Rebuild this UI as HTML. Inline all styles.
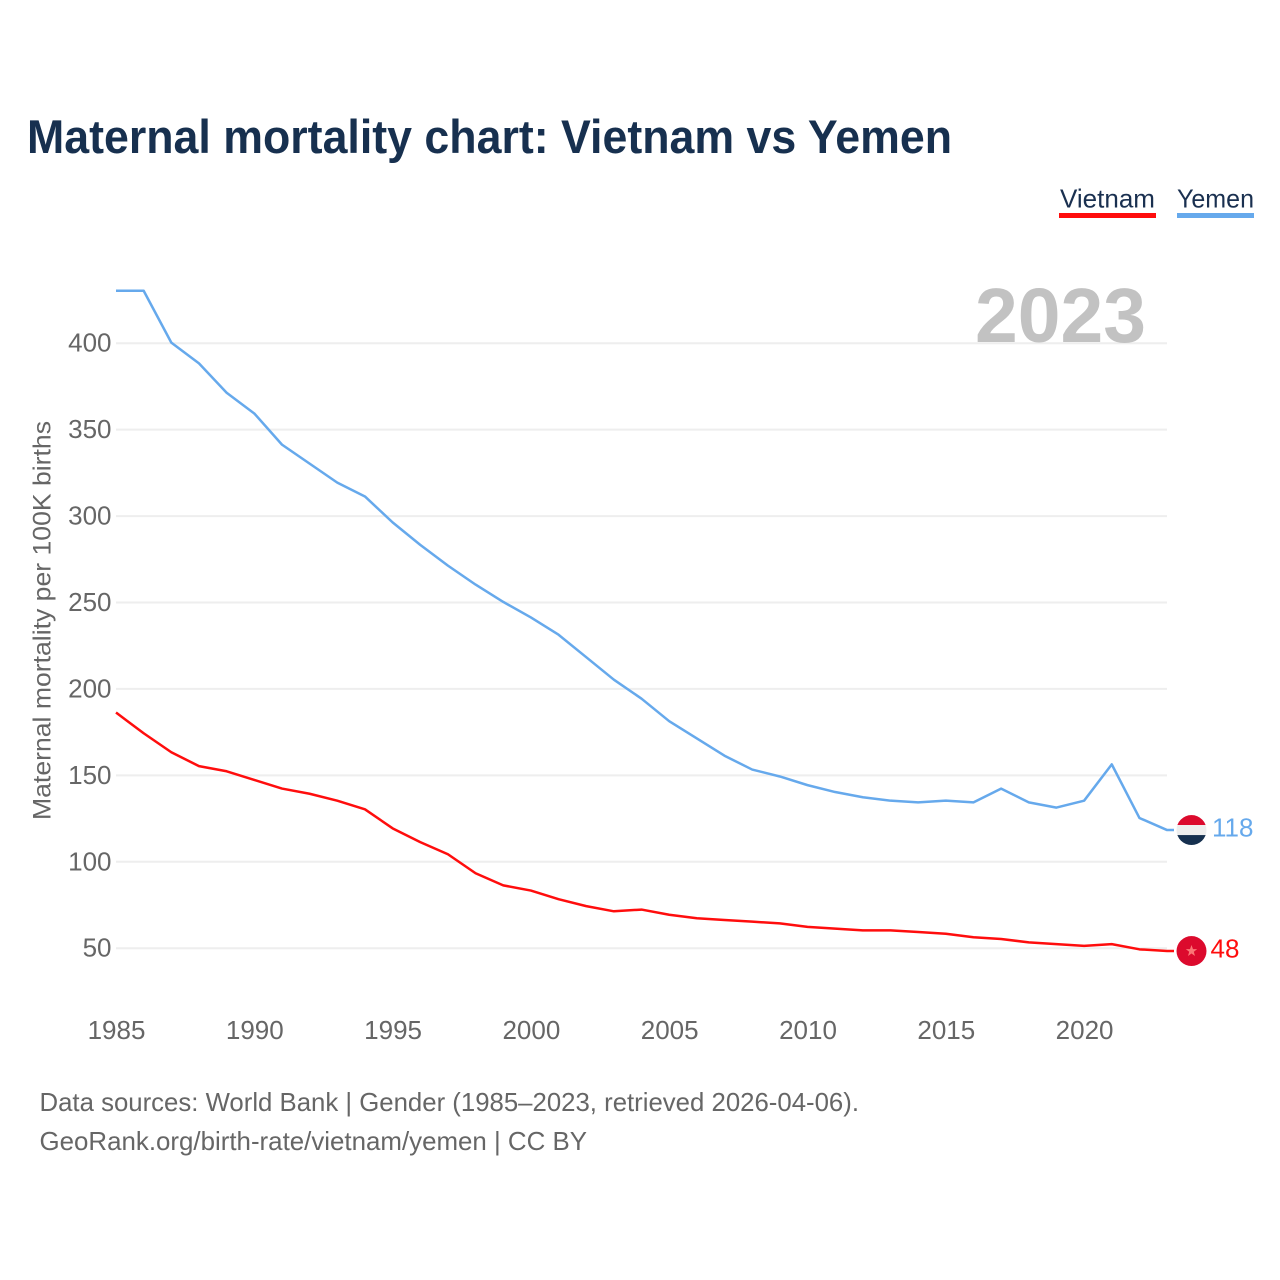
<!DOCTYPE html>
<html lang="en">
<head>
<meta charset="utf-8">
<title>Maternal mortality chart: Vietnam vs Yemen</title>
<style>
  html, body { margin: 0; padding: 0; background: #fff; }
  svg { display: block; font-family: "Liberation Sans", sans-serif; }
</style>
</head>
<body>
<svg id="chart" xmlns="http://www.w3.org/2000/svg" width="1280" height="1280" viewBox="0 0 1280 1280">
  <defs>
    <clipPath id="flag-clip"><circle cx="0" cy="0" r="15"></circle></clipPath>
  </defs>
  <rect x="0" y="0" width="1280" height="1280" fill="#ffffff"></rect>
  <text x="27" y="153" font-size="47" font-weight="700" fill="#17304f" textLength="925" lengthAdjust="spacingAndGlyphs">Maternal mortality chart: Vietnam vs Yemen</text>

  <g>
    <g>
      <text x="1060" y="207.5" font-size="26" fill="#1a3050" textLength="95" lengthAdjust="spacingAndGlyphs">Vietnam</text>
      <rect x="1059" y="213" width="97" height="5" fill="#ff0d0d"></rect>
    </g>
    <g>
      <text x="1177" y="207.5" font-size="26" fill="#1a3050" textLength="77" lengthAdjust="spacingAndGlyphs">Yemen</text>
      <rect x="1177" y="213" width="77" height="5" fill="#66a9ec"></rect>
    </g>
  </g>

  <g id="grid"></g>
  <text x="975" y="342" font-size="77" font-weight="700" fill="#c2c2c2" textLength="171" lengthAdjust="spacingAndGlyphs">2023</text>
  <g id="y-ticks"></g>
  <g id="x-ticks"></g>
  <text transform="translate(50.5 820) rotate(-90)" x="0" y="0" font-size="25" fill="#666666" textLength="399" lengthAdjust="spacingAndGlyphs">Maternal mortality per 100K births</text>

  <path id="line-vietnam" fill="none" stroke="#ff0d0d" stroke-width="2.5" stroke-linejoin="round"></path>
  <path id="line-yemen" fill="none" stroke="#66a9ec" stroke-width="2.5" stroke-linejoin="round"></path>

  <g id="flag-vietnam" clip-path="url(#flag-clip)">
    <rect x="-15" y="-15" width="30" height="30" fill="#dc0a2d"></rect>
    <polygon points="0,-6 1.5,-1.9 5.7,-1.9 2.3,0.7 3.5,4.9 0,2.4 -3.5,4.9 -2.3,0.7 -5.7,-1.9 -1.5,-1.9" fill="#fb7676"></polygon>
  </g>
  <g id="flag-yemen" clip-path="url(#flag-clip)">
    <rect x="-15" y="-15" width="30" height="10" fill="#dc0a2d"></rect>
    <rect x="-15" y="-5" width="30" height="10" fill="#eeeeee"></rect>
    <rect x="-15" y="5" width="30" height="10" fill="#16304f"></rect>
  </g>
  <text id="value-vietnam" x="1210.5" font-size="26" fill="#ff0d0d"></text>
  <text id="value-yemen" x="1212" font-size="26" fill="#66a9ec"></text>

  <g>
    <text x="39.5" y="1111" font-size="26" fill="#666666" textLength="819.5" lengthAdjust="spacingAndGlyphs">Data sources: World Bank | Gender (1985–2023, retrieved 2026-04-06).</text>
    <text x="39.5" y="1150" font-size="26" fill="#666666" textLength="547.5" lengthAdjust="spacingAndGlyphs">GeoRank.org/birth-rate/vietnam/yemen | CC BY</text>
  </g>
</svg>
<script>
const years = [1985,1986,1987,1988,1989,1990,1991,1992,1993,1994,1995,1996,1997,1998,1999,2000,2001,2002,2003,2004,2005,2006,2007,2008,2009,2010,2011,2012,2013,2014,2015,2016,2017,2018,2019,2020,2021,2022,2023];
const vietnamValues = [186,174,163,155,152,147,142,139,135,130,119,111,104,93,86,83,78,74,71,72,69,67,66,65,64,62,61,60,60,59,58,56,55,53,52,51,52,49,48];
const yemenValues = [430,430,400,388,371,359,341,330,319,311,296,283,271,260,250,241,231,218,205,194,181,171,161,153,149,144,140,137,135,134,135,134,142,134,131,135,156,125,118];
const yTickLabels = [50,100,150,200,250,300,350,400];
const xTickLabels = [1985,1990,1995,2000,2005,2010,2015,2020];

const SVG_NS = 'http://www.w3.org/2000/svg';
const xScale = function (year) { return 116 + (year - 1985) * 27.66; };
const yScale = function (value) { return 947.6 - (value - 50) * 1.7285; };
const tickXScale = function (year) { return 116.5 + (year - 1985) * 27.66; };
const plotRight = 1167;
const labelExtensionX = 1174;

function makeText(content, x, y, anchor) {
  const t = document.createElementNS(SVG_NS, 'text');
  t.setAttribute('x', x);
  t.setAttribute('y', y);
  t.setAttribute('text-anchor', anchor);
  t.setAttribute('font-size', '26');
  t.setAttribute('fill', '#666666');
  t.textContent = content;
  return t;
}

const gridGroup = document.getElementById('grid');
const yTicksGroup = document.getElementById('y-ticks');
yTickLabels.forEach(function (v) {
  const gy = yScale(v) + 0.6;
  const line = document.createElementNS(SVG_NS, 'line');
  
  
  line.setAttribute('x1', 116);
  line.setAttribute('x2', plotRight);
  line.setAttribute('y1', gy);
  line.setAttribute('y2', gy);
  line.setAttribute('stroke', '#eeeeee');
  line.setAttribute('stroke-width', '2');
  gridGroup.appendChild(line);
  const label = makeText(String(v), 111.5, gy + 8.5, 'end');
  
  
  yTicksGroup.appendChild(label);
});

const xTicksGroup = document.getElementById('x-ticks');
xTickLabels.forEach(function (yr) {
  const label = makeText(String(yr), tickXScale(yr), 1039, 'middle');
  
  
  xTicksGroup.appendChild(label);
});

function linePath(values) {
  let d = '';
  values.forEach(function (v, i) {
    d += (i === 0 ? 'M' : 'L') + xScale(years[i]).toFixed(2) + ' ' + yScale(v).toFixed(2) + ' ';
  });
  d += 'L' + labelExtensionX + ' ' + yScale(values[values.length - 1]).toFixed(2);
  return d;
}

function drawSeries(name, values, valueDy) {
  const last = values[values.length - 1];
  const endY = yScale(last);
  document.getElementById('line-' + name).setAttribute('d', linePath(values));
  document.getElementById('flag-' + name).setAttribute('transform', 'translate(1191.5 ' + endY.toFixed(2) + ')');
  const valueText = document.getElementById('value-' + name);
  valueText.setAttribute('y', (endY + valueDy).toFixed(2));
  valueText.textContent = String(last);
}

drawSeries('vietnam', vietnamValues, 6.5);
drawSeries('yemen', yemenValues, 6.5);
</script>
</body>
</html>
